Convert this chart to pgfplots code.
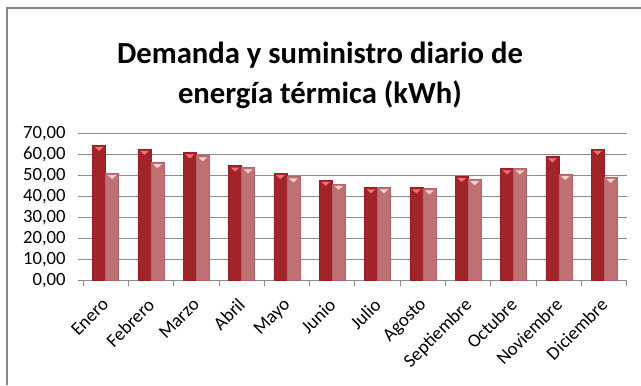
\documentclass[border=0pt]{standalone}
\usepackage{pgfplots}
\pgfplotsset{compat=1.18}
\usepackage{fontspec}
\setmainfont{Carlito}
\usetikzlibrary{shapes.geometric}

\definecolor{framegray}{RGB}{134,134,134}
\definecolor{gridgray}{RGB}{140,140,140}
\definecolor{demedge}{RGB}{150,32,36}
\definecolor{demdark}{RGB}{162,36,40}
\definecolor{demmid}{RGB}{210,58,62}
\definecolor{supedge}{RGB}{178,100,104}
\definecolor{supdark}{RGB}{190,112,116}
\definecolor{supmid}{RGB}{224,150,154}

\begin{document}
\begin{tikzpicture}
  % canvas 641 x 385 px (1 px = 0.75 pt)
  \path[use as bounding box] (0,0) rectangle (480.75pt,288.75pt);
  \fill[white] (0,0) rectangle (480.75pt,288.75pt);
  % chart frame (open to the right and bottom)
  \draw[framegray, line width=1.5pt] (5.25pt,0) -- (5.25pt,282.75pt) -- (480.75pt,282.75pt);
  % title
  \node[anchor=base, font=\fontsize{23}{27}\selectfont\bfseries] at (240pt,240.75pt) {Demanda y suministro diario de};
  \node[anchor=base, font=\fontsize{23}{27}\selectfont\bfseries] at (240pt,210.75pt) {energía térmica (kWh)};

  \begin{axis}[
    at={(62.25pt,78.2pt)}, anchor=south west,
    scale only axis,
    width=407.8pt, height=110.55pt,
    ybar=0pt, bar width=9.75pt,
    xmin=-0.5, xmax=11.5,
    ymin=0, ymax=70,
    ytick={0,10,...,70},
    xtick={0,...,11},
    xticklabels={Enero,Febrero,Marzo,Abril,Mayo,Junio,Julio,Agosto,Septiembre,Octubre,Noviembre,Diciembre},
    minor xtick={-0.5,0.5,...,11.5},
    major x tick style={draw=none},
    minor tick length=4pt,
    major tick length=4pt,
    tick align=outside,
    tick style={gridgray, line width=0.6pt},
    ymajorgrids,
    major grid style={gridgray, line width=0.6pt},
    axis x line*=bottom,
    axis y line*=left,
    axis line style={gridgray, line width=0.6pt},
    y axis line style={draw=none},
    /pgf/number format/use comma,
    /pgf/number format/fixed,
    /pgf/number format/fixed zerofill,
    /pgf/number format/precision=2,
    /pgf/number format/assume math mode=true,
    ticklabel style={font=\fontsize{14}{16}\selectfont},
    yticklabel style={xshift=-5.5pt},
    xticklabel style={anchor=north east, shift={(-3.4pt,-6.6pt)}, rotate=45, inner sep=1pt},
    nodes near coords={},
    every node near coord/.append style={shape=isosceles triangle, isosceles triangle stretches, shape border rotate=270, minimum width=6.5pt, minimum height=3pt, inner sep=0pt, anchor=center, yshift=-2.6pt},
    clip=false,
  ]
    % demand
    \addplot[draw=demedge, line width=0.4pt, left color=demdark, middle color=demmid, right color=demdark,
      every node near coord/.append style={fill={rgb,255:red,244;green,112;blue,112}, draw=none}]
      coordinates {(0,64.4) (1,62.5) (2,60.8) (3,54.6) (4,51.0) (5,47.8) (6,44.2) (7,44.2) (8,49.6) (9,53.2) (10,58.9) (11,62.5)};
    % supply
    \addplot[draw=supedge, line width=0.4pt, left color=supdark, middle color=supmid, right color=supdark,
      every node near coord/.append style={fill={rgb,255:red,252;green,206;blue,206}, draw=none}]
      coordinates {(0,51.0) (1,56.2) (2,59.4) (3,53.7) (4,49.4) (5,45.9) (6,44.2) (7,43.7) (8,48.1) (9,53.2) (10,50.5) (11,49.2)};
  \end{axis}
\end{tikzpicture}
\end{document}
